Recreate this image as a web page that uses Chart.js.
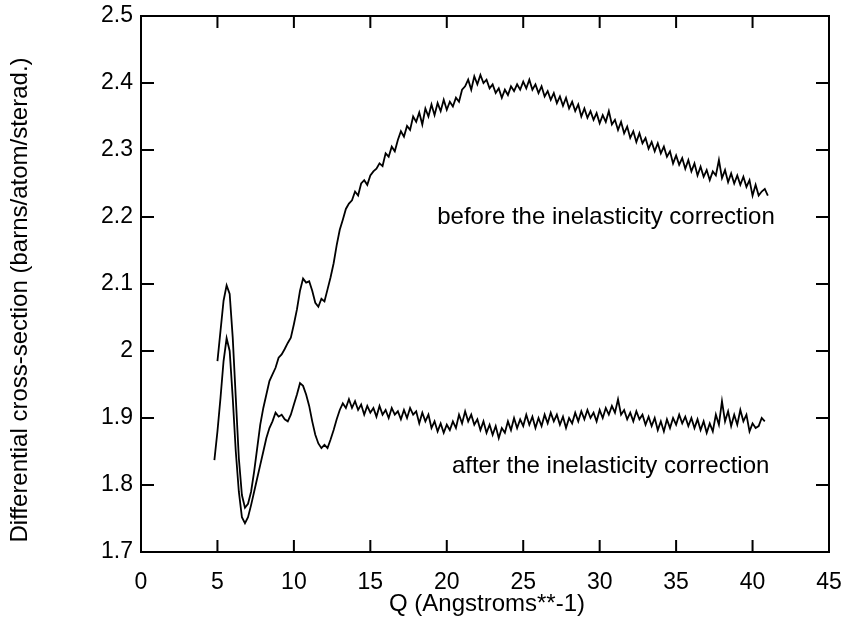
<!DOCTYPE html>
<html><head><meta charset="utf-8">
<script src="https://cdn.jsdelivr.net/npm/chart.js@4.4.1/dist/chart.umd.min.js"></script>
<style>html,body{margin:0;padding:0;background:#fff}#wrap{width:844px;height:619px;position:relative}</style>
</head><body><div id="wrap"><canvas id="c" width="844" height="619"></canvas></div>
<script>
const qValues = [
4.8,5.0,5.2,5.4,5.6,5.8,6.0,6.2,6.4,6.6,
6.8,7.0,7.2,7.4,7.6,7.8,8.0,8.2,8.4,8.6,
8.8,9.0,9.2,9.4,9.6,9.8,10.0,10.2,10.4,10.6,
10.8,11.0,11.2,11.4,11.6,11.8,12.0,12.2,12.4,12.6,
12.8,13.0,13.2,13.4,13.6,13.8,14.0,14.2,14.4,14.6,
14.8,15.0,15.2,15.4,15.6,15.8,16.0,16.2,16.4,16.6,
16.8,17.0,17.2,17.4,17.6,17.8,18.0,18.2,18.4,18.6,
18.8,19.0,19.2,19.4,19.6,19.8,20.0,20.2,20.4,20.6,
20.8,21.0,21.2,21.4,21.6,21.8,22.0,22.2,22.4,22.6,
22.8,23.0,23.2,23.4,23.6,23.8,24.0,24.2,24.4,24.6,
24.8,25.0,25.2,25.4,25.6,25.8,26.0,26.2,26.4,26.6,
26.8,27.0,27.2,27.4,27.6,27.8,28.0,28.2,28.4,28.6,
28.8,29.0,29.2,29.4,29.6,29.8,30.0,30.2,30.4,30.6,
30.8,31.0,31.2,31.4,31.6,31.8,32.0,32.2,32.4,32.6,
32.8,33.0,33.2,33.4,33.6,33.8,34.0,34.2,34.4,34.6,
34.8,35.0,35.2,35.4,35.6,35.8,36.0,36.2,36.4,36.6,
36.8,37.0,37.2,37.4,37.6,37.8,38.0,38.2,38.4,38.6,
38.8,39.0,39.2,39.4,39.6,39.8,40.0,40.2,40.4,40.6,
40.8,41.0];

const beforeValues = [
null,1.985,2.03,2.075,2.098,2.085,2.02,1.93,1.84,1.785,
1.766,1.772,1.79,1.82,1.855,1.89,1.915,1.935,1.955,1.965,
1.975,1.99,1.995,2.003,2.012,2.02,2.04,2.062,2.09,2.108,
2.102,2.104,2.09,2.072,2.066,2.078,2.074,2.092,2.11,2.131,
2.158,2.181,2.196,2.212,2.22,2.225,2.238,2.232,2.25,2.255,
2.248,2.262,2.268,2.272,2.28,2.276,2.295,2.29,2.305,2.298,
2.315,2.328,2.32,2.336,2.33,2.35,2.342,2.356,2.338,2.362,
2.35,2.368,2.352,2.37,2.358,2.375,2.36,2.372,2.365,2.378,
2.372,2.39,2.395,2.405,2.39,2.41,2.398,2.412,2.4,2.405,
2.392,2.398,2.385,2.392,2.378,2.39,2.382,2.395,2.388,2.398,
2.39,2.402,2.392,2.405,2.39,2.398,2.385,2.395,2.38,2.388,
2.375,2.385,2.37,2.38,2.366,2.378,2.362,2.372,2.358,2.368,
2.35,2.362,2.348,2.358,2.345,2.355,2.34,2.352,2.342,2.358,
2.338,2.345,2.33,2.342,2.325,2.335,2.318,2.328,2.312,2.325,
2.31,2.318,2.302,2.312,2.298,2.31,2.295,2.305,2.29,2.298,
2.28,2.292,2.278,2.288,2.272,2.285,2.268,2.28,2.262,2.275,
2.26,2.27,2.255,2.268,2.262,2.285,2.258,2.27,2.252,2.265,
2.25,2.262,2.248,2.26,2.245,2.255,2.232,2.248,2.232,2.238,
2.242,2.232];

const afterValues = [
1.837,1.88,1.93,1.985,2.019,2.0,1.93,1.85,1.79,1.752,
1.743,1.752,1.77,1.79,1.81,1.83,1.85,1.87,1.885,1.895,
1.908,1.902,1.905,1.898,1.895,1.905,1.92,1.935,1.952,1.948,
1.935,1.918,1.895,1.875,1.862,1.855,1.86,1.855,1.868,1.882,
1.898,1.912,1.922,1.915,1.928,1.915,1.925,1.912,1.92,1.905,
1.918,1.908,1.915,1.902,1.918,1.905,1.912,1.9,1.915,1.905,
1.91,1.898,1.912,1.9,1.915,1.905,1.91,1.892,1.908,1.895,
1.905,1.885,1.895,1.88,1.892,1.878,1.89,1.882,1.895,1.885,
1.905,1.892,1.91,1.895,1.905,1.89,1.898,1.882,1.895,1.878,
1.89,1.875,1.888,1.87,1.885,1.878,1.895,1.882,1.9,1.885,
1.898,1.888,1.905,1.89,1.902,1.885,1.9,1.888,1.905,1.892,
1.908,1.895,1.905,1.89,1.902,1.885,1.9,1.892,1.908,1.895,
1.91,1.898,1.912,1.9,1.908,1.895,1.912,1.9,1.915,1.905,
1.918,1.908,1.928,1.905,1.912,1.898,1.908,1.895,1.91,1.898,
1.905,1.89,1.902,1.888,1.9,1.882,1.895,1.88,1.898,1.885,
1.9,1.89,1.905,1.892,1.902,1.888,1.9,1.885,1.898,1.882,
1.895,1.878,1.892,1.88,1.905,1.89,1.925,1.895,1.91,1.888,
1.905,1.89,1.912,1.895,1.905,1.88,1.892,1.885,1.888,1.9,
1.895,null];

const seriesNames = ['before the inelasticity correction', 'after the inelasticity correction'];
const xTickValues = [0,5,10,15,20,25,30,35,40,45];
const yTickValues = [1.7,1.8,1.9,2.0,2.1,2.2,2.3,2.4,2.5];
const xTitle = 'Q (Angstroms**-1)';
const yTitle = 'Differential cross-section (barns/atom/sterad.)';

// annotation anchor points (data coords), kept separate from data
const notes = [
  {text: seriesNames[0], q: 41.45, v: 2.2},
  {text: seriesNames[1], q: 41.1, v: 1.828}
];

const FONT = '"Liberation Sans", Arial, Helvetica, sans-serif';

function pts(vals){
  const out = [];
  qValues.forEach((q,i)=>{ if(vals[i]!==null) out.push({x:q, y:vals[i]}); });
  return out;
}

const framePlugin = {
  id: 'frame',
  afterDatasetsDraw(chart){
    const {ctx, chartArea:a, scales:{x,y}} = chart;
    ctx.save();
    ctx.strokeStyle = '#000';
    ctx.lineWidth = 2;
    ctx.strokeRect(a.left, a.top, a.right-a.left, a.bottom-a.top);
    ctx.beginPath();
    xTickValues.forEach(v=>{
      const p = x.getPixelForValue(v);
      ctx.moveTo(p, a.bottom); ctx.lineTo(p, a.bottom-12);
      ctx.moveTo(p, a.top); ctx.lineTo(p, a.top+12);
    });
    yTickValues.forEach(v=>{
      const p = y.getPixelForValue(v);
      ctx.moveTo(a.left, p); ctx.lineTo(a.left+13, p);
      ctx.moveTo(a.right, p); ctx.lineTo(a.right-13, p);
    });
    ctx.stroke();
    ctx.fillStyle = '#000';
    ctx.font = '24px ' + FONT;
    ctx.textAlign = 'right';
    ctx.textBaseline = 'middle';
    notes.forEach(n=>{
      ctx.fillText(n.text, x.getPixelForValue(n.q), y.getPixelForValue(n.v));
    });
    // axis titles
    ctx.textAlign = 'center';
    ctx.fillText(xTitle, (a.left + a.right)/2 + 2, 604);
    ctx.save();
    ctx.translate(20, 300);
    ctx.rotate(-Math.PI/2);
    ctx.fillText(yTitle, 0, 0);
    ctx.restore();
    ctx.restore();
  }
};

new Chart(document.getElementById('c'), {
  type: 'scatter',
  data: {
    datasets: [
      {label: seriesNames[0], data: pts(beforeValues), showLine: true, borderColor:'#000', borderWidth:1.8, pointRadius:0, tension:0},
      {label: seriesNames[1], data: pts(afterValues), showLine: true, borderColor:'#000', borderWidth:1.8, pointRadius:0, tension:0}
    ]
  },
  options: {
    responsive: false,
    animation: false,
    devicePixelRatio: 1,
    layout: {padding: {left: 0, right: 15, top: 16, bottom: 0}},
    plugins: {legend: {display:false}, tooltip: {enabled:false}},
    scales: {
      x: {
        type: 'linear', min: 0, max: 45,
        afterFit: s => { s.height = 67; s.paddingLeft = 0; s.paddingRight = 0; },
        afterBuildTicks: s => { s.ticks = xTickValues.map(v=>({value:v})); },
        grid: {display: false, drawTicks: false},
        border: {display: false},
        ticks: {color:'#000', font:{family:FONT, size:23}, padding: 17, maxRotation:0, callback: v => String(v)},
        title: {display: false}
      },
      y: {
        type: 'linear', min: 1.7, max: 2.5,
        afterFit: s => { s.width = 141; s.paddingTop = 0; s.paddingBottom = 0; },
        afterBuildTicks: s => { s.ticks = yTickValues.map(v=>({value:v})); },
        grid: {display: false, drawTicks: false},
        border: {display: false},
        ticks: {color:'#000', font:{family:FONT, size:23}, padding: 8, callback: v => String(Math.round(v*10)/10)},
        title: {display: false}
      }
    }
  },
  plugins: [framePlugin]
});
</script>
</body></html>
